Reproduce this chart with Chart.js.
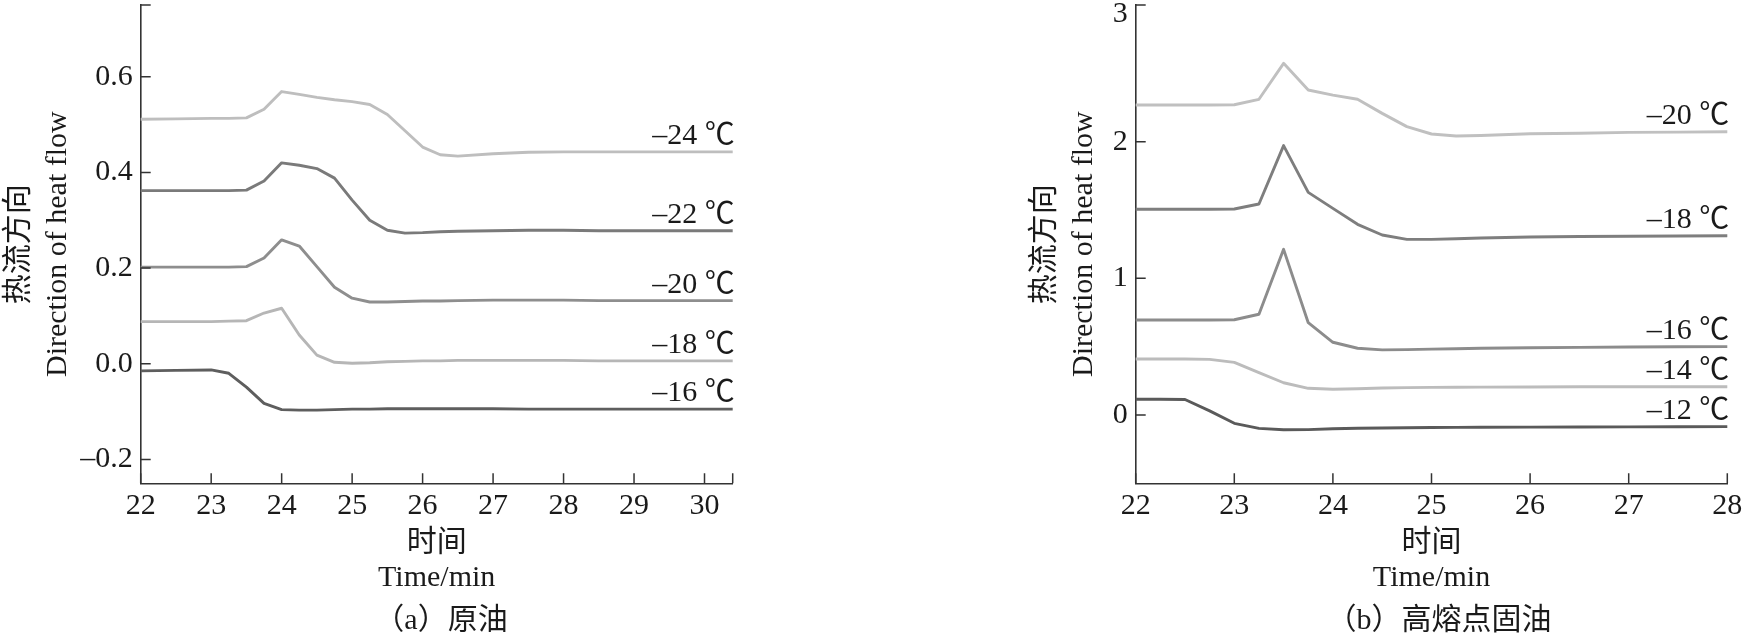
<!DOCTYPE html>
<html>
<head>
<meta charset="utf-8">
<script src="https://cdn.jsdelivr.net/npm/chart.js@4/dist/chart.umd.min.js"></script>
<style>
html,body{margin:0;padding:0;background:#fff;}
body{width:1746px;height:634px;position:relative;overflow:hidden;}
.box{position:absolute;top:0;height:634px;}
#boxA{left:0;width:780px;}
#boxB{left:1026px;width:720px;}
.cap{position:absolute;top:604px;font:30px/30px 'Liberation Serif','Noto Sans CJK SC',serif;color:#1a1a1a;white-space:nowrap;transform:translateX(-50%);}
</style>
</head>
<body>
<div class="box" id="boxA"><canvas id="cA"></canvas></div>
<div class="box" id="boxB"><canvas id="cB"></canvas></div>
<div class="cap" style="left:441px">（a）原油</div>
<div class="cap" style="left:1439px">（b）高熔点固油</div>
<script>
// ---------- data: chart (a) 原油 ----------
const timesA = [22, 22.5, 23, 23.25, 23.5, 23.75, 24, 24.25, 24.5, 24.75, 25, 25.25, 25.5, 25.75, 26, 26.25, 26.5, 27, 27.5, 28, 28.5, 29, 29.5, 30, 30.4];
const a_m24 = [0.511,0.512,0.513,0.513,0.514,0.532,0.569,0.563,0.557,0.552,0.548,0.542,0.521,0.487,0.453,0.437,0.434,0.439,0.442,0.443,0.443,0.443,0.443,0.443,0.443];
const a_m22 = [0.362,0.362,0.362,0.362,0.363,0.382,0.420,0.415,0.408,0.388,0.342,0.300,0.279,0.273,0.274,0.276,0.277,0.278,0.279,0.279,0.278,0.278,0.278,0.278,0.278];
const a_m20 = [0.202,0.202,0.202,0.202,0.203,0.221,0.259,0.246,0.203,0.160,0.137,0.129,0.129,0.130,0.131,0.131,0.132,0.133,0.133,0.133,0.132,0.132,0.132,0.132,0.132];
const a_m18 = [0.088,0.088,0.088,0.089,0.090,0.106,0.116,0.060,0.018,0.003,0.001,0.002,0.004,0.005,0.006,0.006,0.007,0.007,0.007,0.007,0.006,0.006,0.006,0.006,0.006];
const a_m16 = [-0.015,-0.014,-0.013,-0.020,-0.049,-0.083,-0.096,-0.097,-0.097,-0.096,-0.095,-0.095,-0.094,-0.094,-0.094,-0.094,-0.094,-0.094,-0.095,-0.095,-0.095,-0.095,-0.095,-0.095,-0.095];
const namesA = ['–24 ℃', '–22 ℃', '–20 ℃', '–18 ℃', '–16 ℃'];
const xTicksA = [22, 23, 24, 25, 26, 27, 28, 29, 30];
const yTicksA = [-0.2, 0, 0.2, 0.4, 0.6];
const yTickLabelsA = ['–0.2', '0.0', '0.2', '0.4', '0.6'];

// ---------- data: chart (b) 高熔点固油 ----------
const timesB = [22, 22.25, 22.5, 22.75, 23, 23.25, 23.5, 23.75, 24, 24.25, 24.5, 24.75, 25, 25.25, 25.5, 26, 26.5, 27, 27.5, 28];
const b_m20 = [2.268,2.268,2.268,2.268,2.270,2.310,2.573,2.378,2.341,2.310,2.207,2.110,2.056,2.041,2.045,2.058,2.062,2.068,2.070,2.073];
const b_m18 = [1.505,1.505,1.505,1.505,1.507,1.544,1.971,1.629,1.512,1.395,1.317,1.285,1.285,1.290,1.295,1.302,1.306,1.308,1.310,1.312];
const b_m16 = [0.695,0.695,0.695,0.695,0.697,0.737,1.212,0.675,0.532,0.488,0.476,0.478,0.482,0.485,0.488,0.492,0.495,0.497,0.499,0.500];
const b_m14 = [0.410,0.410,0.410,0.407,0.385,0.310,0.236,0.195,0.188,0.192,0.197,0.200,0.202,0.203,0.204,0.205,0.206,0.206,0.207,0.207];
const b_m12 = [0.115,0.115,0.113,0.030,-0.061,-0.098,-0.108,-0.107,-0.101,-0.097,-0.095,-0.093,-0.092,-0.091,-0.090,-0.089,-0.088,-0.087,-0.086,-0.085];
const namesB = ['–20 ℃', '–18 ℃', '–16 ℃', '–14 ℃', '–12 ℃'];
const xTicksB = [22, 23, 24, 25, 26, 27, 28];
const yTicksB = [0, 1, 2, 3];
const yTickLabelsB = ['0', '1', '2', '3'];

const xTitle = ['时间', 'Time/min'];
const yTitle = ['热流方向', 'Direction of heat flow'];

// ---------- styles ----------
const FONT = "'Liberation Serif', 'Noto Sans CJK SC', serif";
const TXT = '#1a1a1a';
const AXIS = '#333333';
const colorsA = ['#bebebe', '#7a7a7a', '#8e8e8e', '#b6b6b6', '#5e5e5e'];
const colorsB = ['#c0c0c0', '#7e7e7e', '#8c8c8c', '#bcbcbc', '#5a5a5a'];

function makePlugin(cfg) {
  return {
    id: 'deco',
    afterDraw(chart) {
      const ctx = chart.ctx, ca = chart.chartArea;
      const xs = chart.scales.x, ys = chart.scales.y;
      ctx.save();
      // inward tick marks
      ctx.strokeStyle = AXIS;
      ctx.lineWidth = 1.5;
      ctx.beginPath();
      cfg.xTicks.concat([xs.max]).forEach(v => {
        const p = xs.getPixelForValue(v);
        ctx.moveTo(p, ca.bottom);
        ctx.lineTo(p, ca.bottom - 10);
      });
      cfg.yTicks.concat([ys.max]).forEach(v => {
        const p = ys.getPixelForValue(v);
        ctx.moveTo(ca.left, p);
        ctx.lineTo(ca.left + 10, p);
      });
      ctx.stroke();
      // series labels at right end
      ctx.fillStyle = TXT;
      ctx.font = '30px ' + FONT;
      ctx.textAlign = 'right';
      ctx.textBaseline = 'alphabetic';
      cfg.series.forEach((vals, i) => {
        const y = ys.getPixelForValue(vals[vals.length - 1]);
        ctx.fillText(cfg.names[i], ca.right + 2, y - 8);
      });
      // top tick label drawn inside the axis top
      if (cfg.topLabelInside) {
        ctx.textBaseline = 'middle';
        const last = cfg.yTicks.length - 1;
        ctx.fillText(cfg.yTickLabels[last], ca.left - 8, ys.getPixelForValue(cfg.yTicks[last]) + 9);
      }
      ctx.restore();
    }
  };
}

function makeChart(id, cfg) {
  const datasets = cfg.series.map((vals, i) => ({
    label: cfg.names[i],
    data: cfg.times.map((t, j) => ({x: t, y: vals[j]})),
    borderColor: cfg.colors[i],
    borderWidth: 2.9,
    pointRadius: 0,
    tension: 0,
    fill: false,
    borderJoinStyle: 'round',
    borderCapStyle: 'round'
  }));
  const lastY = cfg.yTicks.length - 1;
  return new Chart(document.getElementById(id), {
    type: 'line',
    data: {datasets},
    options: {
      responsive: true,
      maintainAspectRatio: false,
      animation: false,
      devicePixelRatio: 1,
      layout: {padding: {left: 0, top: 5, right: cfg.padRight, bottom: 0}},
      plugins: {legend: {display: false}, tooltip: {enabled: false}, title: {display: false}},
      scales: {
        x: {
          type: 'linear', min: cfg.xMin, max: cfg.xMax,
          afterBuildTicks: s => { s.ticks = cfg.xTicks.map(v => ({value: v})); },
          afterFit: s => { s.height = 150.7; s.paddingLeft = 0; s.paddingRight = 0; },
          grid: {display: false, drawTicks: false},
          border: {display: true, color: AXIS, width: 1.6},
          ticks: {
            padding: 5, color: TXT, autoSkip: false, maxRotation: 0,
            font: {family: FONT, size: 30, lineHeight: 1.2},
            callback: (v, i) => String(cfg.xTicks[i])
          },
          title: {
            display: true, text: xTitle, color: TXT,
            font: {family: FONT, size: 30, lineHeight: 1.18},
            padding: {top: 0, bottom: 37.8}
          }
        },
        y: {
          type: 'linear', min: cfg.yMin, max: cfg.yMax,
          afterBuildTicks: s => { s.ticks = cfg.yTicks.map(v => ({value: v})); },
          afterFit: s => { s.width = cfg.yWidth; s.paddingTop = 0; s.paddingBottom = 0; },
          grid: {display: false, drawTicks: false},
          border: {display: true, color: AXIS, width: 1.6},
          ticks: {
            padding: 8, autoSkip: false,
            color: c => (cfg.topLabelInside && c.index === lastY) ? 'rgba(0,0,0,0)' : TXT,
            font: {family: FONT, size: 30, lineHeight: 1.2},
            callback: (v, i) => cfg.yTickLabels[i]
          },
          title: {
            display: true, text: yTitle, color: TXT,
            font: {family: FONT, size: 30, lineHeight: 1.32},
            padding: {top: -1, bottom: 0}
          }
        }
      }
    },
    plugins: [makePlugin(cfg)]
  });
}

makeChart('cA', {
  times: timesA,
  series: [a_m24, a_m22, a_m20, a_m18, a_m16],
  names: namesA, colors: colorsA,
  xTicks: xTicksA, yTicks: yTicksA, yTickLabels: yTickLabelsA,
  xMin: 22, xMax: 30.4, yMin: -0.25, yMax: 0.75,
  yWidth: 140.7, padRight: 47.3, topLabelInside: false
});

makeChart('cB', {
  times: timesB,
  series: [b_m20, b_m18, b_m16, b_m14, b_m12],
  names: namesB, colors: colorsB,
  xTicks: xTicksB, yTicks: yTicksB, yTickLabels: yTickLabelsB,
  xMin: 22, xMax: 28, yMin: -0.5, yMax: 3,
  yWidth: 109.7, padRight: 18.7, topLabelInside: true
});
</script>
</body>
</html>
